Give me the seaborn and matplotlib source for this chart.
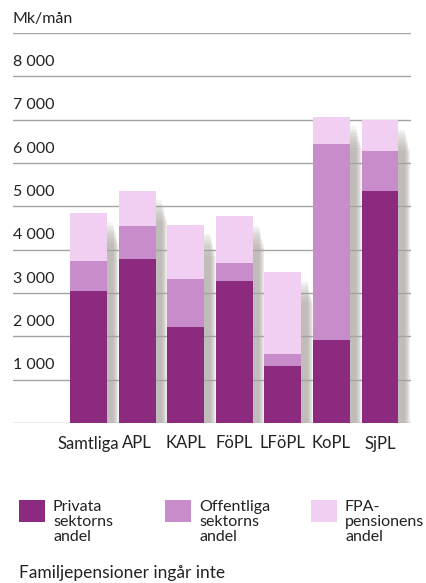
import matplotlib
matplotlib.use("Agg")
import matplotlib.pyplot as plt
import seaborn as sns
import pandas as pd
import numpy as np
from matplotlib.patches import Rectangle

categories = ["Samtliga", "APL", "KAPL", "FöPL", "LFöPL", "KoPL", "SjPL"]
privata = [3050, 3780, 2220, 3280, 1320, 1910, 5360]
offentliga = [680, 770, 1100, 410, 270, 4530, 920]
fpa = [1120, 810, 1260, 1080, 1900, 630, 710]
ytick_values = [1000, 2000, 3000, 4000, 5000, 6000, 7000, 8000]
ytick_labels = ["1 000", "2 000", "3 000", "4 000", "5 000", "6 000", "7 000", "8 000"]
unit_label = "Mk/mån"
legend_labels = ["Privata\nsektorns\nandel", "Offentliga\nsektorns\nandel", "FPA-\npensionens\nandel"]
footnote = "Familjepensioner ingår inte"

c_priv = "#8c2a80"
c_off = "#c98ccb"
c_fpa = "#f1cff3"
c_shadow = "#a8a39f"
c_grid = "#a3a3a3"
c_text = "#222222"

sns.set_theme(style="white")
plt.rcParams["font.family"] = ["Lato", "DejaVu Sans"]

df = pd.DataFrame({"cat": categories, "priv": privata, "off": offentliga, "fpa": fpa})
df["lvl2"] = df["priv"] + df["off"]
df["lvl3"] = df["lvl2"] + df["fpa"]

W, H = 426, 583
fig = plt.figure(figsize=(W / 100, H / 100), dpi=100)
ax = fig.add_axes([13 / W, (H - 423) / H, (411 - 13) / W, (423 - 33) / H])

bw = 0.76
xpos = np.arange(len(categories))
# soft drop shadows: many faint layers
n_layers = 10
for i in range(n_layers):
    t = i / (n_layers - 1)
    dx = 0.13 + 0.11 * t
    dy = 220 + 500 * t
    ax.bar(xpos + dx, df["lvl3"] - dy, width=bw, color=c_shadow, alpha=0.11,
           linewidth=0, zorder=1)

for yv in [0] + ytick_values + [9000]:
    ax.axhline(yv, color=c_grid, lw=1.0, zorder=1.5)

sns.barplot(data=df, x="cat", y="lvl3", color=c_fpa, width=bw, saturation=1,
            linewidth=0, ax=ax, zorder=2)
sns.barplot(data=df, x="cat", y="lvl2", color=c_off, width=bw, saturation=1,
            linewidth=0, ax=ax, zorder=2)
sns.barplot(data=df, x="cat", y="priv", color=c_priv, width=bw, saturation=1,
            linewidth=0, ax=ax, zorder=2)

ax.set_xlim(-1.554, 6.638)
ax.set_ylim(0, 9000)
for s in ax.spines.values():
    s.set_visible(False)
ax.set_xlabel("")
ax.set_ylabel("")
ax.set_yticks([])
ax.tick_params(axis="x", length=0, pad=9, labelsize=12, labelcolor=c_text)

trans = ax.get_yaxis_transform()
for v, lab in zip(ytick_values, ytick_labels):
    ax.text(0, v + 330, lab, transform=trans, ha="left", va="center",
            fontsize=11.5, color=c_text)
ax.text(0, 9000 + 330, unit_label, transform=trans, ha="left", va="center",
        fontsize=11.5, color=c_text)

# legend
leg_x = [19, 165, 311]
for x0, col, lab in zip(leg_x, [c_priv, c_off, c_fpa], legend_labels):
    fig.add_artist(Rectangle((x0 / W, (H - 522) / H), 26 / W, 22 / H,
                             transform=fig.transFigure, color=col, lw=0))
    fig.text((x0 + 34) / W, (H - 500) / H, lab, ha="left", va="top",
             fontsize=11.5, color=c_text, linespacing=1.08)

fig.text(19 / W, (H - 573) / H, footnote, ha="left", va="center",
         fontsize=12.5, color=c_text)

fig.savefig("out.png", dpi=100)
